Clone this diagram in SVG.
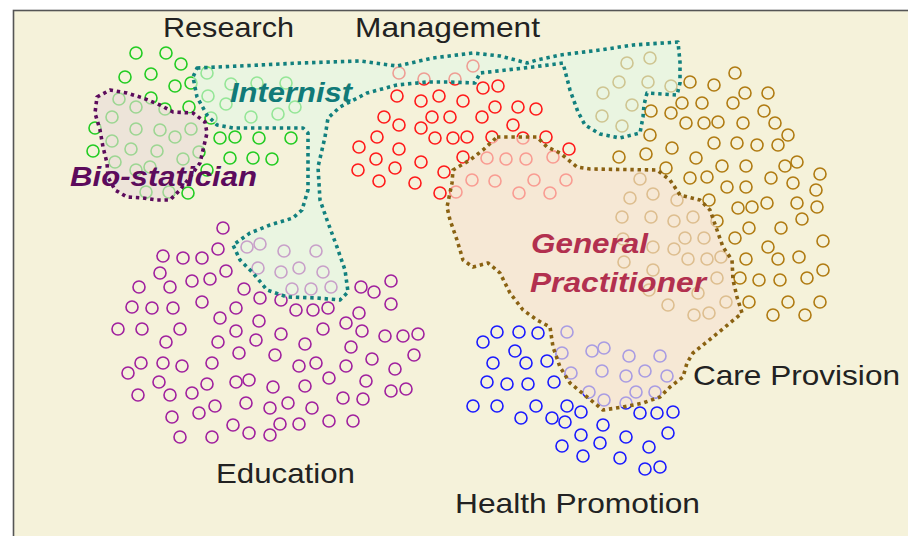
<svg xmlns="http://www.w3.org/2000/svg" width="908" height="536" viewBox="0 0 908 536">
<style>
.c circle{fill:none;stroke-width:1.6}
.g circle{stroke:#22cc22}
.r circle{stroke:#ff1a1a}
.b circle{stroke:#b07b12}
.u circle{stroke:#1a1aff}
.p circle{stroke:#a0209e}
.reg{stroke-width:3.6;stroke-dasharray:3.4 3.8;stroke-linejoin:round}
.lbl{font-family:"Liberation Sans",Arial,sans-serif;font-size:28px;fill:#222}
.it{font-family:"Liberation Sans",Arial,sans-serif;font-size:28px;font-weight:bold;font-style:italic}
</style>
<rect x="0" y="0" width="908" height="536" fill="#ffffff"/>
<rect x="13.5" y="10.5" width="930" height="540" fill="#f5f2da" stroke="#555" stroke-width="1.6"/>

<g id="research-cluster" class="c g">
<circle cx="136" cy="53" r="6"/><circle cx="166" cy="53" r="6"/><circle cx="181" cy="64" r="6"/><circle cx="125" cy="77" r="6"/><circle cx="151" cy="74" r="6"/><circle cx="175" cy="86" r="6"/><circle cx="191" cy="83" r="6"/><circle cx="207" cy="73" r="6"/><circle cx="119" cy="99" r="6"/><circle cx="151" cy="98" r="6"/><circle cx="136" cy="107" r="6"/><circle cx="165" cy="109" r="6"/><circle cx="189" cy="107" r="6"/><circle cx="208" cy="96" r="6"/><circle cx="211" cy="118" r="6"/><circle cx="231" cy="84" r="6"/><circle cx="257" cy="83" r="6"/><circle cx="286" cy="83" r="6"/><circle cx="226" cy="104" r="6"/><circle cx="251" cy="117" r="6"/><circle cx="278" cy="114" r="6"/><circle cx="295" cy="107" r="6"/><circle cx="112" cy="117" r="6"/><circle cx="95" cy="128" r="6"/><circle cx="136" cy="129" r="6"/><circle cx="160" cy="130" r="6"/><circle cx="175" cy="137" r="6"/><circle cx="191" cy="129" r="6"/><circle cx="112" cy="141" r="6"/><circle cx="93" cy="151" r="6"/><circle cx="131" cy="149" r="6"/><circle cx="157" cy="151" r="6"/><circle cx="183" cy="159" r="6"/><circle cx="199" cy="152" r="6"/><circle cx="220" cy="138" r="6"/><circle cx="235" cy="137" r="6"/><circle cx="259" cy="138" r="6"/><circle cx="291" cy="138" r="6"/><circle cx="230" cy="158" r="6"/><circle cx="253" cy="158" r="6"/><circle cx="272" cy="159" r="6"/><circle cx="115" cy="162" r="6"/><circle cx="136" cy="170" r="6"/><circle cx="150" cy="167" r="6"/><circle cx="207" cy="170" r="6"/><circle cx="146" cy="192" r="6"/><circle cx="169" cy="192" r="6"/><circle cx="188" cy="193" r="6"/>
</g>

<g id="management-cluster" class="c r">
<circle cx="399" cy="73" r="6"/><circle cx="424" cy="79" r="6"/><circle cx="455" cy="79" r="6"/><circle cx="473" cy="66" r="6"/><circle cx="483" cy="88" r="6"/><circle cx="498" cy="86" r="6"/><circle cx="397" cy="96" r="6"/><circle cx="421" cy="101" r="6"/><circle cx="439" cy="96" r="6"/><circle cx="463" cy="101" r="6"/><circle cx="495" cy="107" r="6"/><circle cx="518" cy="107" r="6"/><circle cx="536" cy="109" r="6"/><circle cx="384" cy="117" r="6"/><circle cx="399" cy="125" r="6"/><circle cx="432" cy="117" r="6"/><circle cx="450" cy="117" r="6"/><circle cx="482" cy="117" r="6"/><circle cx="513" cy="125" r="6"/><circle cx="421" cy="128" r="6"/><circle cx="377" cy="137" r="6"/><circle cx="435" cy="138" r="6"/><circle cx="453" cy="138" r="6"/><circle cx="467" cy="137" r="6"/><circle cx="492" cy="137" r="6"/><circle cx="523" cy="138" r="6"/><circle cx="546" cy="137" r="6"/><circle cx="359" cy="147" r="6"/><circle cx="399" cy="149" r="6"/><circle cx="569" cy="149" r="6"/><circle cx="376" cy="159" r="6"/><circle cx="421" cy="162" r="6"/><circle cx="463" cy="157" r="6"/><circle cx="487" cy="158" r="6"/><circle cx="506" cy="159" r="6"/><circle cx="526" cy="159" r="6"/><circle cx="553" cy="157" r="6"/><circle cx="358" cy="170" r="6"/><circle cx="395" cy="168" r="6"/><circle cx="444" cy="172" r="6"/><circle cx="379" cy="181" r="6"/><circle cx="415" cy="183" r="6"/><circle cx="472" cy="180" r="6"/><circle cx="495" cy="181" r="6"/><circle cx="534" cy="180" r="6"/><circle cx="566" cy="180" r="6"/><circle cx="440" cy="193" r="6"/><circle cx="456" cy="192" r="6"/><circle cx="519" cy="193" r="6"/><circle cx="550" cy="193" r="6"/>
</g>

<g id="care-cluster" class="c b">
<circle cx="627" cy="63" r="6"/><circle cx="650" cy="58" r="6"/><circle cx="619" cy="82" r="6"/><circle cx="648" cy="82" r="6"/><circle cx="671" cy="86" r="6"/><circle cx="603" cy="93" r="6"/><circle cx="632" cy="105" r="6"/><circle cx="602" cy="116" r="6"/><circle cx="622" cy="126" r="6"/><circle cx="651" cy="111" r="6"/><circle cx="671" cy="113" r="6"/><circle cx="650" cy="135" r="6"/>
<circle cx="690" cy="82" r="6"/><circle cx="714" cy="85" r="6"/><circle cx="735" cy="73" r="6"/><circle cx="682" cy="103" r="6"/><circle cx="702" cy="103" r="6"/><circle cx="733" cy="103" r="6"/><circle cx="745" cy="93" r="6"/><circle cx="768" cy="93" r="6"/><circle cx="686" cy="123" r="6"/><circle cx="704" cy="123" r="6"/><circle cx="718" cy="122" r="6"/><circle cx="743" cy="123" r="6"/><circle cx="764" cy="111" r="6"/><circle cx="775" cy="123" r="6"/><circle cx="788" cy="135" r="6"/><circle cx="672" cy="148" r="6"/><circle cx="714" cy="143" r="6"/><circle cx="737" cy="143" r="6"/><circle cx="757" cy="145" r="6"/><circle cx="778" cy="145" r="6"/><circle cx="619" cy="157" r="6"/><circle cx="646" cy="154" r="6"/><circle cx="696" cy="158" r="6"/><circle cx="666" cy="168" r="6"/><circle cx="722" cy="166" r="6"/><circle cx="746" cy="166" r="6"/><circle cx="785" cy="166" r="6"/><circle cx="797" cy="162" r="6"/><circle cx="640" cy="179" r="6"/><circle cx="690" cy="178" r="6"/><circle cx="707" cy="177" r="6"/><circle cx="771" cy="178" r="6"/><circle cx="793" cy="183" r="6"/><circle cx="820" cy="174" r="6"/><circle cx="727" cy="187" r="6"/><circle cx="746" cy="187" r="6"/><circle cx="816" cy="190" r="6"/><circle cx="630" cy="198" r="6"/><circle cx="653" cy="194" r="6"/><circle cx="677" cy="200" r="6"/><circle cx="709" cy="200" r="6"/><circle cx="738" cy="208" r="6"/><circle cx="752" cy="207" r="6"/><circle cx="767" cy="203" r="6"/><circle cx="797" cy="203" r="6"/><circle cx="817" cy="207" r="6"/><circle cx="622" cy="217" r="6"/><circle cx="651" cy="217" r="6"/><circle cx="674" cy="221" r="6"/><circle cx="693" cy="217" r="6"/><circle cx="717" cy="221" r="6"/><circle cx="802" cy="219" r="6"/><circle cx="749" cy="228" r="6"/><circle cx="781" cy="228" r="6"/><circle cx="685" cy="238" r="6"/><circle cx="704" cy="238" r="6"/><circle cx="735" cy="238" r="6"/><circle cx="823" cy="241" r="6"/><circle cx="623" cy="239" r="6"/><circle cx="653" cy="247" r="6"/><circle cx="674" cy="249" r="6"/><circle cx="768" cy="247" r="6"/><circle cx="624" cy="262" r="6"/><circle cx="688" cy="259" r="6"/><circle cx="707" cy="259" r="6"/><circle cx="721" cy="257" r="6"/><circle cx="746" cy="259" r="6"/><circle cx="778" cy="259" r="6"/><circle cx="799" cy="257" r="6"/><circle cx="653" cy="270" r="6"/><circle cx="717" cy="278" r="6"/><circle cx="740" cy="278" r="6"/><circle cx="759" cy="280" r="6"/><circle cx="780" cy="280" r="6"/><circle cx="807" cy="278" r="6"/><circle cx="823" cy="270" r="6"/><circle cx="649" cy="290" r="6"/><circle cx="698" cy="293" r="6"/><circle cx="668" cy="305" r="6"/><circle cx="726" cy="302" r="6"/><circle cx="749" cy="302" r="6"/><circle cx="788" cy="302" r="6"/><circle cx="820" cy="302" r="6"/><circle cx="694" cy="315" r="6"/><circle cx="709" cy="313" r="6"/><circle cx="773" cy="315" r="6"/><circle cx="805" cy="315" r="6"/>
</g>

<g id="health-promotion-cluster" class="c u">
<circle cx="497" cy="332" r="6"/><circle cx="519" cy="332" r="6"/><circle cx="538" cy="333" r="6"/><circle cx="567" cy="332" r="6"/><circle cx="483" cy="342" r="6"/><circle cx="515" cy="351" r="6"/><circle cx="562" cy="353" r="6"/><circle cx="592" cy="351" r="6"/><circle cx="604" cy="348" r="6"/><circle cx="629" cy="356" r="6"/><circle cx="660" cy="356" r="6"/><circle cx="493" cy="363" r="6"/><circle cx="526" cy="363" r="6"/><circle cx="547" cy="361" r="6"/><circle cx="571" cy="373" r="6"/><circle cx="602" cy="371" r="6"/><circle cx="626" cy="376" r="6"/><circle cx="645" cy="371" r="6"/><circle cx="667" cy="376" r="6"/><circle cx="487" cy="382" r="6"/><circle cx="507" cy="384" r="6"/><circle cx="528" cy="384" r="6"/><circle cx="554" cy="382" r="6"/><circle cx="589" cy="392" r="6"/><circle cx="636" cy="392" r="6"/><circle cx="655" cy="392" r="6"/><circle cx="473" cy="406" r="6"/><circle cx="497" cy="406" r="6"/><circle cx="536" cy="406" r="6"/><circle cx="567" cy="406" r="6"/><circle cx="604" cy="400" r="6"/><circle cx="626" cy="403" r="6"/><circle cx="521" cy="418" r="6"/><circle cx="552" cy="418" r="6"/><circle cx="565" cy="422" r="6"/><circle cx="581" cy="412" r="6"/><circle cx="640" cy="413" r="6"/><circle cx="657" cy="413" r="6"/><circle cx="673" cy="412" r="6"/><circle cx="603" cy="425" r="6"/><circle cx="581" cy="435" r="6"/><circle cx="626" cy="437" r="6"/><circle cx="668" cy="433" r="6"/><circle cx="562" cy="446" r="6"/><circle cx="600" cy="443" r="6"/><circle cx="649" cy="447" r="6"/><circle cx="583" cy="456" r="6"/><circle cx="620" cy="458" r="6"/><circle cx="645" cy="469" r="6"/><circle cx="660" cy="467" r="6"/>
</g>

<g id="education-cluster" class="c p">
<circle cx="223" cy="228" r="6"/><circle cx="247" cy="247" r="6"/><circle cx="260" cy="244" r="6"/><circle cx="218" cy="249" r="6"/><circle cx="163" cy="256" r="6"/><circle cx="183" cy="258" r="6"/><circle cx="202" cy="258" r="6"/><circle cx="284" cy="251" r="6"/><circle cx="316" cy="251" r="6"/><circle cx="160" cy="273" r="6"/><circle cx="226" cy="271" r="6"/><circle cx="258" cy="268" r="6"/><circle cx="281" cy="272" r="6"/><circle cx="299" cy="268" r="6"/><circle cx="323" cy="272" r="6"/><circle cx="139" cy="287" r="6"/><circle cx="170" cy="287" r="6"/><circle cx="192" cy="281" r="6"/><circle cx="210" cy="279" r="6"/><circle cx="244" cy="289" r="6"/><circle cx="260" cy="298" r="6"/><circle cx="292" cy="289" r="6"/><circle cx="311" cy="289" r="6"/><circle cx="331" cy="287" r="6"/><circle cx="361" cy="287" r="6"/><circle cx="374" cy="292" r="6"/><circle cx="391" cy="281" r="6"/><circle cx="132" cy="307" r="6"/><circle cx="152" cy="308" r="6"/><circle cx="173" cy="308" r="6"/><circle cx="202" cy="302" r="6"/><circle cx="236" cy="308" r="6"/><circle cx="281" cy="300" r="6"/><circle cx="296" cy="310" r="6"/><circle cx="313" cy="310" r="6"/><circle cx="328" cy="308" r="6"/><circle cx="391" cy="304" r="6"/><circle cx="118" cy="329" r="6"/><circle cx="142" cy="329" r="6"/><circle cx="180" cy="329" r="6"/><circle cx="220" cy="318" r="6"/><circle cx="259" cy="321" r="6"/><circle cx="236" cy="331" r="6"/><circle cx="323" cy="329" r="6"/><circle cx="346" cy="323" r="6"/><circle cx="359" cy="313" r="6"/><circle cx="362" cy="331" r="6"/><circle cx="385" cy="336" r="6"/><circle cx="403" cy="336" r="6"/><circle cx="418" cy="334" r="6"/><circle cx="166" cy="342" r="6"/><circle cx="218" cy="342" r="6"/><circle cx="256" cy="340" r="6"/><circle cx="281" cy="334" r="6"/><circle cx="305" cy="344" r="6"/><circle cx="351" cy="347" r="6"/><circle cx="414" cy="355" r="6"/><circle cx="239" cy="353" r="6"/><circle cx="275" cy="355" r="6"/><circle cx="141" cy="363" r="6"/><circle cx="163" cy="363" r="6"/><circle cx="182" cy="366" r="6"/><circle cx="212" cy="363" r="6"/><circle cx="299" cy="366" r="6"/><circle cx="316" cy="363" r="6"/><circle cx="346" cy="366" r="6"/><circle cx="372" cy="359" r="6"/><circle cx="395" cy="369" r="6"/><circle cx="128" cy="373" r="6"/><circle cx="159" cy="382" r="6"/><circle cx="207" cy="384" r="6"/><circle cx="236" cy="382" r="6"/><circle cx="249" cy="380" r="6"/><circle cx="273" cy="387" r="6"/><circle cx="305" cy="386" r="6"/><circle cx="329" cy="378" r="6"/><circle cx="366" cy="381" r="6"/><circle cx="391" cy="391" r="6"/><circle cx="406" cy="389" r="6"/><circle cx="138" cy="395" r="6"/><circle cx="170" cy="395" r="6"/><circle cx="192" cy="393" r="6"/><circle cx="215" cy="406" r="6"/><circle cx="246" cy="403" r="6"/><circle cx="270" cy="408" r="6"/><circle cx="288" cy="403" r="6"/><circle cx="312" cy="408" r="6"/><circle cx="343" cy="398" r="6"/><circle cx="363" cy="399" r="6"/><circle cx="172" cy="417" r="6"/><circle cx="199" cy="413" r="6"/><circle cx="233" cy="425" r="6"/><circle cx="280" cy="424" r="6"/><circle cx="299" cy="424" r="6"/><circle cx="329" cy="421" r="6"/><circle cx="353" cy="421" r="6"/><circle cx="180" cy="437" r="6"/><circle cx="212" cy="437" r="6"/><circle cx="249" cy="433" r="6"/><circle cx="270" cy="435" r="6"/>
</g>

<g id="internist">
<path class="reg" fill="#e3f6e6" fill-opacity="0.6" stroke="#12807e" d="M197,68 L260,65 L300,63 L360,61 L397,66 L433,58 L473,53 L500,56 L527,63 L537,60 L560,55 L600,50 L633,45 L678,42 L680,62 L680,83 L677,95 L647,93 L644,105 L643,117 L640,133 L620,138 L600,134 L585,125 L578,112 L570,90 L563,63 L533,67 L480,73 L475,83 L450,82 L427,82 L397,85 L367,93 L340,107 L328,118 L325,137 L318,167 L320,200 L327,220 L337,247 L345,270 L348,292 L340,300 L317,298 L287,297 L267,290 L253,273 L240,260 L233,245 L250,233 L270,225 L293,218 L302,210 L308,190 L308,133 L303,128 L233,128 L217,125 L207,115 L197,97 L193,77 Z"/>
</g>

<g id="bio-statician">
<path class="reg" fill="#e9dcd9" fill-opacity="0.62" stroke="#5c0b5c" d="M97,97 L110,90 L127,93 L143,98 L160,105 L173,112 L193,113 L205,122 L207,133 L203,150 L200,163 L190,177 L180,190 L170,200 L157,200 L143,198 L127,197 L115,190 L108,177 L107,163 L103,147 L100,130 L95,113 Z"/>
</g>

<g id="general-practitioner">
<path class="reg" fill="#f6e2d3" fill-opacity="0.65" stroke="#8a6212" d="M497,137 L537,137 L547,147 L560,153 L577,167 L590,169 L657,170 L670,180 L680,195 L700,200 L710,210 L717,230 L723,247 L732,260 L733,280 L737,297 L742,313 L730,323 L713,337 L693,353 L687,363 L683,377 L670,387 L660,397 L643,403 L623,407 L603,410 L587,397 L570,383 L560,367 L553,347 L550,327 L537,320 L523,310 L510,293 L500,273 L493,267 L488,263 L473,267 L463,260 L457,240 L450,220 L447,207 L452,183 L453,170 L470,160 L483,150 Z"/>
</g>

<g id="labels">
<text class="lbl" x="163" y="37" textLength="131" lengthAdjust="spacingAndGlyphs">Research</text>
<text class="lbl" x="355" y="37" textLength="185" lengthAdjust="spacingAndGlyphs">Management</text>
<text class="lbl" x="693" y="385" textLength="207" lengthAdjust="spacingAndGlyphs">Care Provision</text>
<text class="lbl" x="216" y="483" textLength="139" lengthAdjust="spacingAndGlyphs">Education</text>
<text class="lbl" x="455" y="513" textLength="245" lengthAdjust="spacingAndGlyphs">Health Promotion</text>
<text class="it" x="230" y="102" font-size="27" fill="#117a78" textLength="122" lengthAdjust="spacingAndGlyphs">Internist</text>
<text class="it" x="70" y="186" fill="#5c0b5c" textLength="187" lengthAdjust="spacingAndGlyphs">Bio-statician</text>
<text class="it" x="531" y="253" fill="#b2304f" textLength="117" lengthAdjust="spacingAndGlyphs">General</text>
<text class="it" x="530" y="292" fill="#b2304f" textLength="176" lengthAdjust="spacingAndGlyphs">Practitioner</text>
</g>
</svg>
